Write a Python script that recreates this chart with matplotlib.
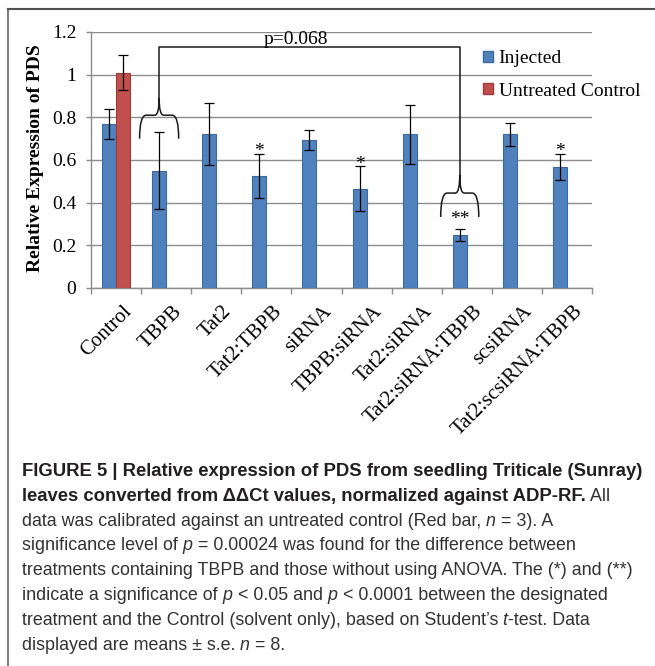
import numpy as np
import matplotlib
matplotlib.use("Agg")
import matplotlib.pyplot as plt
from matplotlib.lines import Line2D
from matplotlib.patches import Patch, PathPatch
from matplotlib.path import Path
from matplotlib.transforms import ScaledTranslation

# Relative PDS expression per treatment (mean and s.e.)
categories = ["Control", "TBPB", "Tat2", "Tat2:TBPB", "siRNA", "TBPB:siRNA",
              "Tat2:siRNA", "Tat2:siRNA:TBPB", "scsiRNA", "Tat2:scsiRNA:TBPB"]
injected = [0.77, 0.55, 0.72, 0.525, 0.695, 0.465, 0.72, 0.25, 0.72, 0.567]
injected_se = [0.07, 0.18, 0.145, 0.105, 0.047, 0.105, 0.14, 0.028, 0.055, 0.063]
untreated = [1.01]
untreated_se = [0.08]
significance = ["", "", "", "*", "", "*", "", "**", "", "*"]
yticks = [0, 0.2, 0.4, 0.6, 0.8, 1.0, 1.2]
ytick_labels = ["0", "0.2", "0.4", "0.6", "0.8", "1", "1.2"]
anova_pair = (1, 7)
anova_label = "p=0.068"

BLUE, BLUE_EDGE = "#4f81bd", "#3d6a9e"
RED, RED_EDGE = "#c0504d", "#9c3b38"
GRID = "#8c8c8c"
SERIF = "Liberation Serif"
CAP_FONT = ["Liberation Sans Narrow", "Liberation Sans", "DejaVu Sans"]
BAR_W = 0.28

W, H = 655, 666
fig = plt.figure(figsize=(W / 100, H / 100), dpi=100)
ax = fig.add_axes([91 / W, 1 - 288 / H, 501 / W, 256 / H])

x = np.arange(len(categories))
xb = x - BAR_W / 2
ax.bar(xb, injected, BAR_W, color=BLUE, edgecolor=BLUE_EDGE, linewidth=0.8, zorder=3)
ax.errorbar(xb, injected, yerr=injected_se, fmt="none", ecolor="black",
            elinewidth=0.9, capsize=3.3, capthick=0.9, zorder=4)
xr = x[:len(untreated)] + BAR_W / 2
ax.bar(xr, untreated, BAR_W, color=RED, edgecolor=RED_EDGE, linewidth=0.8, zorder=3)
ax.errorbar(xr, untreated, yerr=untreated_se, fmt="none", ecolor="black",
            elinewidth=0.9, capsize=3.3, capthick=0.9, zorder=4)

ax.set_xlim(-0.5, len(categories) - 0.5)
ax.set_ylim(0, 1.2)
ax.set_yticks(yticks)
ax.set_yticklabels(ytick_labels, family=SERIF, fontsize=14)
ax.yaxis.grid(True, color=GRID, linewidth=1, zorder=0)
ax.set_axisbelow(True)
for s in ["top", "right"]:
    ax.spines[s].set_visible(False)
for s in ["left", "bottom"]:
    ax.spines[s].set_color(GRID)
    ax.spines[s].set_linewidth(1)
ax.tick_params(axis="y", length=3.6, width=1, color=GRID, pad=7)

# category boundary ticks below, labels at centres
ax.set_xticks(np.arange(len(categories) + 1) - 0.5)
ax.set_xticklabels([])
ax.tick_params(axis="x", which="major", length=4.5, width=1, color=GRID)
ax.set_xticks(x, minor=True)
ax.set_xticklabels(categories, minor=True, rotation=45, ha="right", va="top",
                   rotation_mode="anchor", family=SERIF, fontsize=15)
ax.tick_params(axis="x", which="minor", length=0, pad=10)
shift = ScaledTranslation(6 / 100, 0, fig.dpi_scale_trans)
for lab in ax.get_xticklabels(minor=True):
    lab.set_transform(lab.get_transform() + shift)

# significance stars
for xi, top, mark in zip(xb, np.add(injected, injected_se), significance):
    if mark == "*":
        ax.text(xi, top - 0.012, mark, ha="center", va="baseline",
                family=SERIF, fontsize=14, zorder=5)


def brace(ax, xc, half_w, y_end, y_sh, y_tip):
    r, r2 = 0.13, 0.09
    verts = [(xc - half_w, y_end), (xc - half_w, y_sh), (xc - half_w + r, y_sh),
             (xc - r2, y_sh), (xc, y_sh), (xc, y_tip),
             (xc, y_sh), (xc + r2, y_sh),
             (xc + half_w - r, y_sh), (xc + half_w, y_sh), (xc + half_w, y_end)]
    codes = [Path.MOVETO, Path.CURVE3, Path.CURVE3, Path.LINETO, Path.CURVE3,
             Path.CURVE3, Path.CURVE3, Path.CURVE3, Path.LINETO, Path.CURVE3,
             Path.CURVE3]
    ax.add_patch(PathPatch(Path(verts, codes), facecolor="none",
                           edgecolor="#1a1a1a", linewidth=1.1, zorder=5))


# ANOVA bracket between the two braces
i0, i1 = anova_pair
bx0, bx1 = xb[i0], xb[i1]
top_y = 1.128
brace(ax, bx0, 0.39, 0.70, 0.81, 0.89)
brace(ax, bx1, 0.38, 0.333, 0.445, 0.53)
ax.plot([bx0, bx0, bx1, bx1], [0.89, top_y, top_y, 0.53], color="#1a1a1a",
        linewidth=1.1, zorder=5)
ax.text(3.58, top_y + 0.014, anova_label, ha="center", va="baseline",
        family=SERIF, fontsize=14, zorder=5)
ax.text(bx1, 0.298, significance[i1], ha="center", va="baseline",
        family=SERIF, fontsize=14, zorder=5)

handles = [Patch(facecolor=BLUE, edgecolor=BLUE_EDGE),
           Patch(facecolor=RED, edgecolor=RED_EDGE)]
ax.legend(handles, ["Injected", "Untreated Control"], loc="upper left",
          bbox_to_anchor=(483 / W, 1 - 50 / H), bbox_transform=fig.transFigure,
          frameon=False, handlelength=0.5, handleheight=0.5, handletextpad=0.3,
          labelspacing=0.8, borderpad=0, borderaxespad=0,
          prop={"family": SERIF, "size": 14})

fig.text(36 / W, 1 - 158 / H, "Relative Expression of PDS", rotation=90,
         ha="center", va="center", family=SERIF, fontsize=14, weight="bold")

# panel frame
fig.add_artist(Line2D([7.5 / W, 7.5 / W], [0, 1 - 8.5 / H], transform=fig.transFigure,
                      color="#808080", linewidth=1.5))
fig.add_artist(Line2D([7.5 / W, 1], [1 - 8.5 / H, 1 - 8.5 / H], transform=fig.transFigure,
                      color="#505050", linewidth=1.5))

# caption, written run by run so bold / italic pieces line up
caption = [
    [("FIGURE 5 | Relative expression of PDS from seedling Triticale (Sunray)", "bold", "normal")],
    [("leaves converted from ΔΔCt values, normalized against ADP-RF.", "bold", "normal"),
     (" All", "normal", "normal")],
    [("data was calibrated against an untreated control (Red bar,", "normal", "normal"),
     (" n", "normal", "italic"), (" = 3). A", "normal", "normal")],
    [("significance level of", "normal", "normal"), (" p", "normal", "italic"),
     (" = 0.00024 was found for the difference between", "normal", "normal")],
    [("treatments containing TBPB and those without using ANOVA. The (*) and (**)", "normal", "normal")],
    [("indicate a significance of", "normal", "normal"), (" p", "normal", "italic"),
     (" < 0.05 and", "normal", "normal"), (" p", "normal", "italic"),
     (" < 0.0001 between the designated", "normal", "normal")],
    [("treatment and the Control (solvent only), based on Student’s", "normal", "normal"),
     (" t", "normal", "italic"), ("-test. Data", "normal", "normal")],
    [("displayed are means ± s.e.", "normal", "normal"), (" n", "normal", "italic"),
     (" = 8.", "normal", "normal")],
]
renderer = fig.canvas.get_renderer()
inv = fig.transFigure.inverted()
for k, runs in enumerate(caption):
    y = 1 - (476 + 24.8 * k) / H
    xpos = 22 / W
    for text, weight, style in runs:
        t = fig.text(xpos, y, text, family=CAP_FONT,
                     fontsize=13.3 if weight == "bold" else 12.9, weight=weight,
                     style=style, color="#231f20" if weight == "bold" else "#333333",
                     va="baseline", ha="left")
        bb = t.get_window_extent(renderer)
        xpos = inv.transform((bb.x1, 0))[0]

fig.savefig("out.png", dpi=100)
